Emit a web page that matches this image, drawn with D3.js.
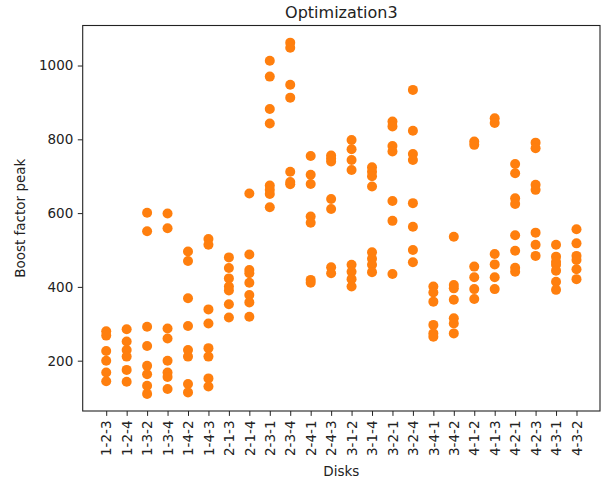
<!DOCTYPE html>
<html>
<head>
<meta charset="utf-8">
<script src="https://cdn.jsdelivr.net/npm/d3@7"></script>
<style>
  html, body { margin: 0; padding: 0; background: #fff; }
  svg { display: block; font-family: "DejaVu Sans", sans-serif; }
</style>
</head>
<body>
<svg id="chart" width="611" height="482"></svg>
<script>
const title = "Optimization3";
const xLabel = "Disks";
const yLabel = "Boost factor peak";
const categories = ["1-2-3","1-2-4","1-3-2","1-3-4","1-4-2","1-4-3","2-1-3","2-1-4","2-3-1","2-3-4","2-4-1","2-4-3","3-1-2","3-1-4","3-2-1","3-2-4","3-4-1","3-4-2","4-1-2","4-1-3","4-2-1","4-2-3","4-3-1","4-3-2"];
const values = [
  [280, 268, 226, 200, 168, 144],
  [285, 252, 229, 211, 175, 143],
  [601, 551, 292, 240, 186, 163, 132, 110],
  [599, 559, 287, 260, 200, 168, 156, 123],
  [496, 470, 369, 294, 229, 211, 137, 114],
  [530, 514, 339, 301, 234, 211, 152, 130],
  [480, 451, 423, 401, 390, 353, 317],
  [653, 488, 446, 437, 411, 378, 358, 319],
  [1013, 970, 882, 843, 675, 663, 652, 616],
  [1062, 1048, 948, 913, 712, 684, 678],
  [755, 704, 679, 591, 574, 419, 411],
  [756, 748, 740, 638, 611, 453, 437],
  [798, 773, 744, 717, 460, 441, 421, 401],
  [724, 712, 700, 672, 494, 476, 460, 440],
  [848, 835, 782, 767, 633, 579, 435],
  [934, 823, 760, 744, 627, 563, 500, 467],
  [401, 385, 360, 297, 274, 265],
  [536, 405, 396, 365, 315, 301, 274],
  [794, 785, 455, 426, 394, 367],
  [857, 844, 489, 461, 426, 394],
  [733, 708, 640, 625, 540, 498, 452, 441],
  [791, 776, 677, 663, 547, 514, 484],
  [514, 482, 468, 460, 444, 414, 392],
  [556, 518, 484, 473, 448, 421]
];
const yTicks = [200, 400, 600, 800, 1000];

const svg = d3.select("#chart");
const mLeft = 82.7, mRight = 600, mTop = 25.5, mBottom = 411;

const x = d3.scaleLinear().domain([-1.15, categories.length - 1 + 1.15]).range([mLeft, mRight]);
const y = d3.scaleLinear().domain([63.6, 1108.5]).range([mBottom, mTop]);

const points = [];
categories.forEach((c, i) => values[i].forEach(v => points.push({i, v})));

svg.append("g").selectAll("circle").data(points).join("circle")
  .attr("cx", d => x(d.i)).attr("cy", d => y(d.v)).attr("r", 5)
  .attr("fill", "#ff7f0e");

// axes
const yAxis = d3.axisLeft(y).tickValues(yTicks).tickSize(4.9).tickPadding(4.5).tickFormat(d3.format("d"));
const gy = svg.append("g").attr("transform", `translate(${mLeft},0)`).call(yAxis);
gy.select(".domain").remove();
gy.selectAll("text").attr("font-size", "13.5px").attr("fill", "#222").attr("font-family", "DejaVu Sans");
gy.selectAll("line").attr("stroke", "#222");

const xAxis = d3.axisBottom(x).tickValues(d3.range(categories.length)).tickSize(4.9).tickFormat(i => categories[i]);
const gx = svg.append("g").attr("transform", `translate(0,${mBottom})`).call(xAxis);
gx.select(".domain").remove();
gx.selectAll("line").attr("stroke", "#222");
gx.selectAll("text")
  .attr("font-size", "13.5px").attr("fill", "#222").attr("font-family", "DejaVu Sans")
  .attr("text-anchor", "end")
  .attr("transform", "rotate(-90)")
  .attr("x", -9.5).attr("y", 0).attr("dy", "0.35em");

// frame
svg.append("rect").attr("x", mLeft).attr("y", mTop).attr("width", mRight - mLeft).attr("height", mBottom - mTop)
  .attr("fill", "none").attr("stroke", "#222").attr("stroke-width", 1.1);

svg.append("text").attr("x", (mLeft + mRight) / 2).attr("y", 18).attr("text-anchor", "middle")
  .attr("font-size", "16px").attr("fill", "#222").text(title);
svg.append("text").attr("x", (mLeft + mRight) / 2).attr("y", 476).attr("text-anchor", "middle")
  .attr("font-size", "13.5px").attr("fill", "#222").text(xLabel);
svg.append("text").attr("transform", `translate(25,${(mTop + mBottom) / 2}) rotate(-90)`).attr("text-anchor", "middle")
  .attr("font-size", "13.5px").attr("fill", "#222").text(yLabel);
</script>
</body>
</html>
